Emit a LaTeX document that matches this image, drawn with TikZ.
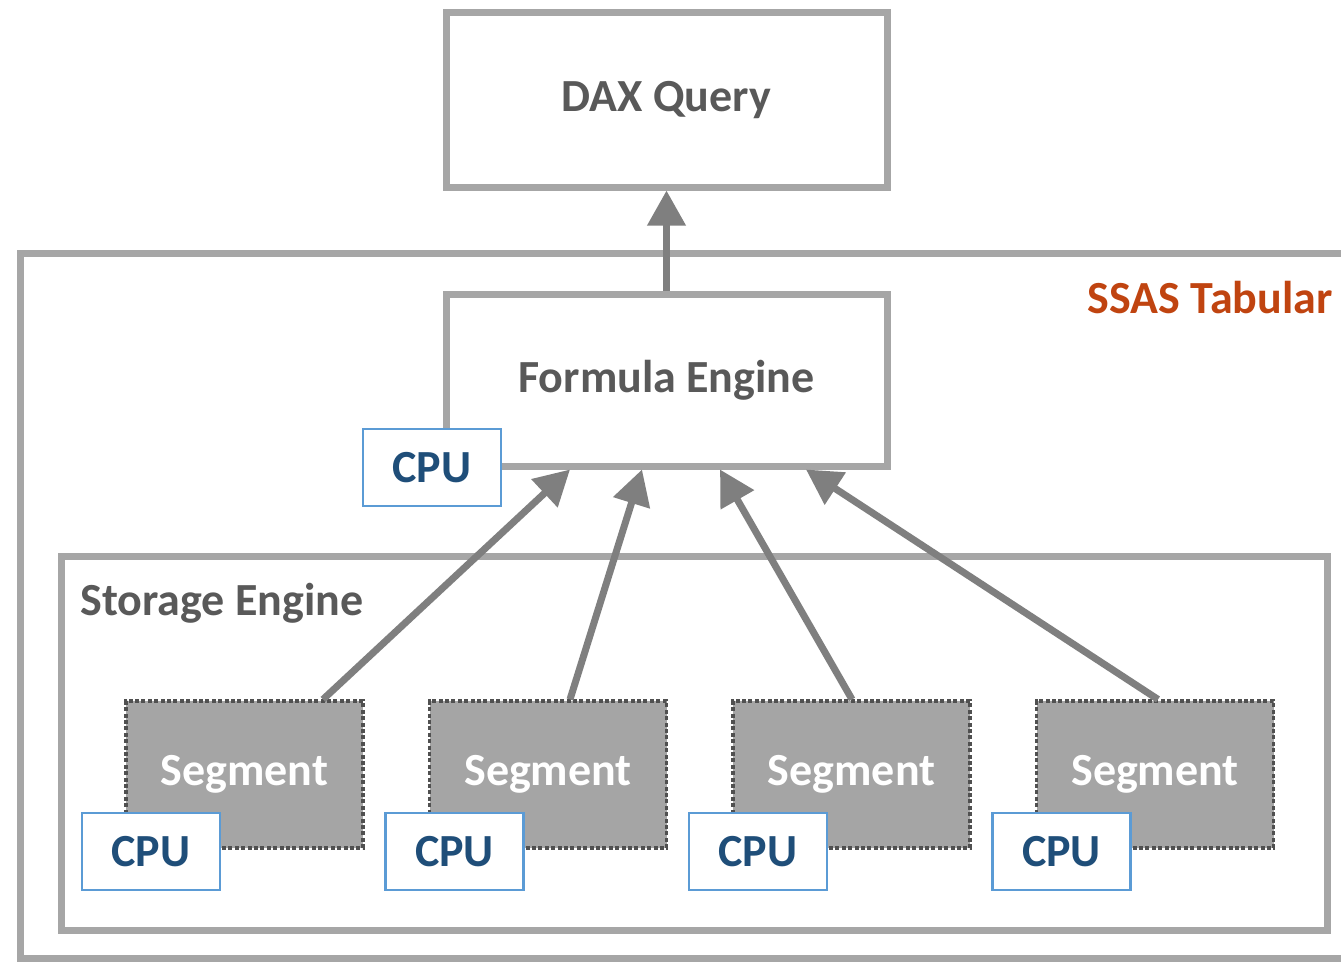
\documentclass[tikz,border=0pt]{standalone}
\usepackage{fontspec}
\setmainfont{Carlito}
\usetikzlibrary{arrows.meta,calc}

\definecolor{framegray}{RGB}{166,166,166}
\definecolor{arrowgray}{RGB}{127,127,127}
\definecolor{textgray}{RGB}{89,89,89}
\definecolor{segfill}{RGB}{165,165,165}
\definecolor{segline}{RGB}{80,80,80}
\definecolor{cpublue}{RGB}{91,155,213}
\definecolor{cputext}{RGB}{31,78,121}
\definecolor{ssasred}{RGB}{192,68,16}

\tikzset{every picture/.style={line width=0.75pt}}
\tikzset{
  lbl/.style={font=\bfseries\fontsize{34.5}{38}\selectfont, inner sep=0.75pt},
  frame/.style={draw=framegray, line width=5.25pt, fill=white},
  cpubox/.style={draw=cpublue, line width=1.9pt, fill=white, minimum width=103.5pt, minimum height=57.75pt, lbl, text=cputext},
  segbox/.style={draw=segline, line width=2.4pt, dash pattern=on 3pt off 1.8pt, fill=segfill, minimum width=177.75pt, minimum height=110.25pt, lbl, text=white},
  flow/.style={draw=arrowgray, line width=5.25pt, -{Triangle[width=27.75pt,length=26.25pt]}}
}

\begin{document}
\begin{tikzpicture}[x=0.75pt,y=0.75pt,yscale=-1]
\useasboundingbox (0,0) rectangle (1341,963);

%Shape: Rectangle [SSAS Tabular]
\node [frame, minimum width=1005pt, minimum height=528.75pt] (ssas) at (690,605.5) {};
%Shape: Rectangle [Storage Engine]
\node [frame, minimum width=949.5pt, minimum height=280.5pt] (storage) at (694,743) {};

%Segments with their CPU
\foreach \i/\cx in {1/244.5,2/548,3/851.5,4/1155}{
  \node [segbox] (seg\i) at (\cx,774.5) {Segment};
  \node [cpubox] (cpu\i) at ($(seg\i)+(-93.5,77)$) {CPU};
}

%Shape: Rectangle [Formula Engine]
\node [frame, minimum width=330.75pt, minimum height=129pt, lbl, text=textgray] (fe) at (666.5,380) {Formula Engine};
\node [cpubox] (cpufe) at (432,467.5) {CPU};
%Shape: Rectangle [DAX Query]
\node [frame, minimum width=330.75pt, minimum height=130.5pt, lbl, text=textgray] (dax) at (666.5,100) {DAX Query};

% Text Node
\node [lbl, text=ssasred, anchor=east] (ssaslbl) at (1334,298) {SSAS Tabular};
% Text Node
\node [lbl, text=textgray, anchor=west] (storagelbl) at (79,603) {Storage Engine};

%Arrows
\coordinate (t1) at (570,0);
\coordinate (t2) at (642,0);
\coordinate (t3) at (720,0);
\coordinate (t4) at (806,0);
\draw [flow] (fe.north) -- (dax.south);
\draw [flow] ($(seg1.north)+(78.5,0)$) -- (fe.south -| t1);
\draw [flow] ($(seg2.north)+(22,0)$) -- (fe.south -| t2);
\draw [flow] ($(seg3.north)+(0.5,0)$) -- (fe.south -| t3);
\draw [flow] ($(seg4.north)+(3,0)$) -- (fe.south -| t4);

\end{tikzpicture}
\end{document}
